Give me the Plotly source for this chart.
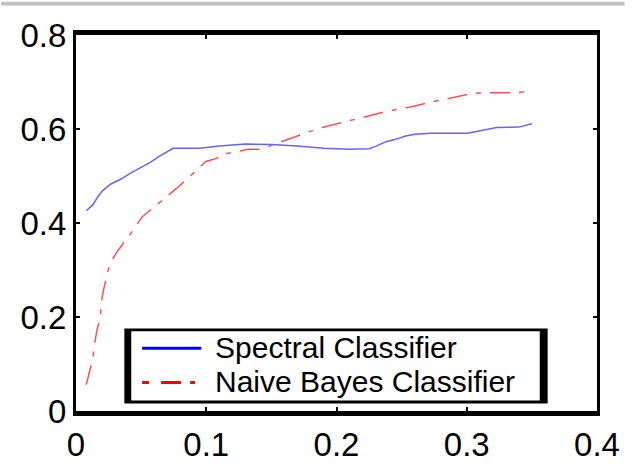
import plotly.graph_objects as go

# ---- data ----
series_names = ["Spectral Classifier", "Naive Bayes Classifier"]

spectral_x = [0.0079, 0.013, 0.0168, 0.0205, 0.0268, 0.0343, 0.0419, 0.0494, 0.057, 0.0645,
              0.072, 0.0745, 0.095, 0.11, 0.13, 0.15, 0.17, 0.19, 0.21, 0.225, 0.23, 0.238,
              0.2455, 0.253, 0.2605, 0.272, 0.3005, 0.311, 0.323, 0.34, 0.35]
spectral_y = [0.426, 0.439, 0.456, 0.469, 0.483, 0.493, 0.506, 0.518, 0.529, 0.543,
              0.556, 0.559, 0.559, 0.564, 0.568, 0.567, 0.564, 0.559, 0.557, 0.558, 0.563, 0.573,
              0.578, 0.585, 0.589, 0.591, 0.591, 0.597, 0.603, 0.604, 0.611]

bayes_x = [0.0079, 0.0104, 0.013, 0.0142, 0.0162, 0.0187, 0.0192, 0.0213, 0.0238, 0.026,
           0.0318, 0.038, 0.0443, 0.0507, 0.0582, 0.069, 0.077, 0.0846, 0.092, 0.0997,
           0.1084, 0.112, 0.122, 0.132, 0.142, 0.156, 0.1675, 0.1776, 0.1889, 0.2002,
           0.209, 0.2215, 0.2379, 0.2455, 0.2568, 0.2705, 0.2794, 0.2907, 0.3033, 0.312,
           0.3259, 0.3384, 0.3485]
bayes_y = [0.056, 0.086, 0.113, 0.142, 0.173, 0.2, 0.228, 0.26, 0.286, 0.314,
           0.34, 0.363, 0.386, 0.413, 0.43, 0.453, 0.473, 0.492, 0.512, 0.531,
           0.538, 0.546, 0.551, 0.557, 0.557, 0.571, 0.584, 0.593, 0.603, 0.611,
           0.618, 0.627, 0.637, 0.641, 0.647, 0.656, 0.661, 0.668, 0.675, 0.677,
           0.677, 0.677, 0.681]

x_ticks = [0, 0.1, 0.2, 0.3, 0.4]
x_tick_labels = ["0", "0.1", "0.2", "0.3", "0.4"]
y_ticks = [0, 0.2, 0.4, 0.6, 0.8]
y_tick_labels = ["0", "0.2", "0.4", "0.6", "0.8"]

# ---- layout geometry (pixels) ----
W, H = 632, 475
L, R, T, B = 76, 28, 35, 44
PW = W - L - R
PH = H - T - B

def px(xp):
    return (xp - L) / PW

def py(yp):
    return (H - B - yp) / PH

FONT = "Liberation Sans, Arial, Helvetica, sans-serif"
blue_line = "rgb(100,100,255)"
red_line = "rgb(255,80,80)"
dashdot = "20px,9px,5px,9px"

fig = go.Figure()
fig.add_trace(go.Scatter(x=spectral_x, y=spectral_y, mode="lines", name=series_names[0],
                         line=dict(color=blue_line, width=1.5), showlegend=False))
fig.add_trace(go.Scatter(x=bayes_x, y=bayes_y, mode="lines", name=series_names[1],
                         line=dict(color=red_line, width=1.5, dash=dashdot), showlegend=False))

shapes = [
    # gray band at the very top of the picture
    dict(type="rect", xref="paper", yref="paper", x0=px(0), x1=px(W), y0=py(4), y1=py(0),
         fillcolor="#c0c0c0", line=dict(width=0), layer="above"),
    # legend box: black frame with white interior
    dict(type="rect", xref="paper", yref="paper", x0=px(125), x1=px(554), y0=py(423), y1=py(344),
         fillcolor="black", line=dict(width=0), layer="above"),
    dict(type="rect", xref="paper", yref="paper", x0=px(132), x1=px(546), y0=py(420), y1=py(347),
         fillcolor="white", line=dict(width=0), layer="above"),
    # legend keys
    dict(type="line", xref="paper", yref="paper", x0=px(143), x1=px(203), y0=py(365), y1=py(365),
         line=dict(color="blue", width=3), layer="above"),
    dict(type="line", xref="paper", yref="paper", x0=px(143), x1=px(203), y0=py(401), y1=py(401),
         line=dict(color="red", width=3, dash="7px,12px,20px,9px,5px,60px"), layer="above"),
]

legend_font = dict(family=FONT, size=30, color="black")
annotations = [
    dict(xref="paper", yref="paper", x=px(216), y=py(364), text=series_names[0], showarrow=False,
         xanchor="left", yanchor="middle", align="left", borderpad=0, font=legend_font),
    dict(xref="paper", yref="paper", x=px(216), y=py(399.5), text=series_names[1], showarrow=False,
         xanchor="left", yanchor="middle", align="left", borderpad=0, font=legend_font),
]

axis_common = dict(showgrid=False, zeroline=False, showline=True, linecolor="black",
                   mirror="all", ticks="inside", ticklen=4, tickwidth=2, tickcolor="black",
                   tickfont=dict(family=FONT, size=33, color="black"))

fig.update_layout(
    width=W, height=H,
    margin=dict(l=L, r=R, t=T, b=B, pad=0),
    paper_bgcolor="white", plot_bgcolor="white",
    showlegend=False, hovermode=False,
    shapes=shapes, annotations=annotations,
    xaxis=dict(range=[0, 0.4], tickvals=x_ticks, ticktext=x_tick_labels, linewidth=5, **axis_common),
    yaxis=dict(range=[0, 0.8], tickvals=y_ticks, ticktext=y_tick_labels, linewidth=3, **axis_common),
)

fig.write_html("out.html", config={"displayModeBar": False},
               post_script="document.body.style.margin='0';document.body.style.overflow='hidden';")
